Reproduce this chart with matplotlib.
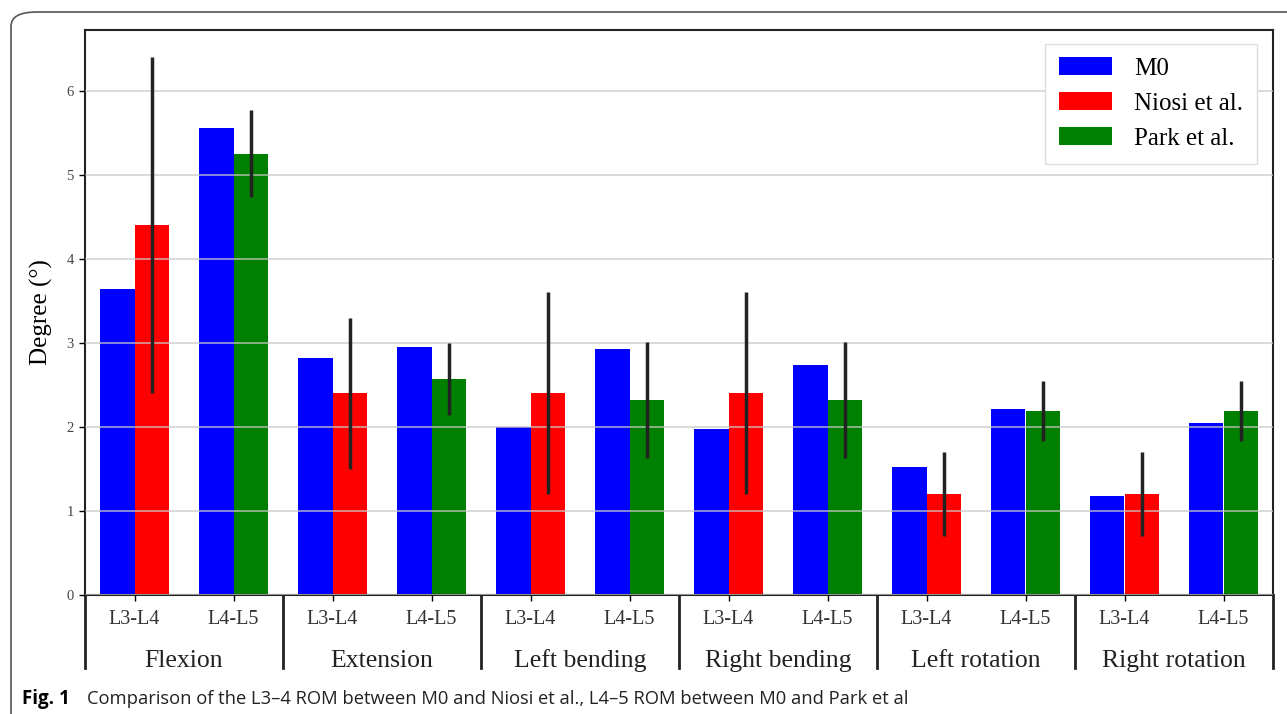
import matplotlib
matplotlib.use("Agg")
from matplotlib import pyplot as plt
from matplotlib.patches import FancyBboxPatch
import matplotlib.transforms as mtransforms
import numpy as np

# motions and spinal levels
motions = ['Flexion', 'Extension', 'Left bending', 'Right bending',
           'Left rotation', 'Right rotation']
levels = ['L3-L4', 'L4-L5']

# M0 model, one value per (motion, level)
m0 = [3.64, 5.56, 2.82, 2.95, 2.00, 2.93, 1.98, 2.74, 1.52, 2.21, 1.18, 2.05]

# Niosi et al. (L3-L4) and Park et al. (L4-L5)
niosi = [4.4, 2.4, 2.4, 2.4, 1.2, 1.2]
niosi_err = [2.0, 0.9, 1.2, 1.2, 0.5, 0.5]
park = [5.25, 2.57, 2.32, 2.32, 2.19, 2.19]
park_err = [0.52, 0.43, 0.69, 0.69, 0.36, 0.36]

serif = 'Liberation Serif'

fig = plt.figure(figsize=(12.87, 7.14), dpi=100)
W, H = 1287, 714

# rounded frame around the figure (cropped on the right and bottom)
frame = FancyBboxPatch((11 / W, -30 / H), 1.1, (714 - 12 + 30) / H,
                       boxstyle='round,pad=0,rounding_size=0.02',
                       transform=fig.transFigure, fill=False,
                       edgecolor='#555555', linewidth=1.2)
fig.patches.append(frame)

ax = fig.add_axes([85 / W, (714 - 595) / H, (1273 - 85) / W, (595 - 30) / H])

x = np.arange(len(m0))
w = 0.35
x34 = x[0::2]
x45 = x[1::2]

ax.bar(x - w / 2, m0, w, color='#0000ff', label='M0', zorder=2)
ax.bar(x34 + w / 2, niosi, w, color='#ff0000', label='Niosi et al.', zorder=2)
ax.bar(x45 + w / 2, park, w, color='#008000', label='Park et al.', zorder=2)
ax.errorbar(x34 + w / 2, niosi, yerr=niosi_err, fmt='none', ecolor='#222222',
            elinewidth=2.5, capsize=0, zorder=3)
ax.errorbar(x45 + w / 2, park, yerr=park_err, fmt='none', ecolor='#222222',
            elinewidth=2.5, capsize=0, zorder=3)

ax.set_xlim(-0.5, 11.5)
ax.set_ylim(0, 6.72)
ax.set_yticks(range(7))
ax.yaxis.grid(True, color='#c8c8c8', linewidth=1.2, alpha=0.8, zorder=4)
ax.set_axisbelow(False)

ax.set_xticks(x)
ax.set_xticklabels(levels * len(motions), fontfamily=serif, fontsize=14.5,
                   color='#333333')
ax.tick_params(axis='x', length=4, width=1, pad=7)
ax.tick_params(axis='y', length=4, width=1, pad=4, labelsize=10.5,
               labelcolor='#444444')
for lab in ax.get_yticklabels():
    lab.set_fontfamily(serif)

for s in ax.spines.values():
    s.set_linewidth(1.5)
    s.set_color('#222222')

ax.set_ylabel('Degree (°)', fontfamily=serif, fontsize=18, labelpad=10)

# group separators and motion labels below the axis
trans = mtransforms.blended_transform_factory(ax.transData, ax.transAxes)
for i in range(len(motions) + 1):
    ax.plot([2 * i - 0.5, 2 * i - 0.5], [0, -0.13], color='#222222',
            linewidth=2, transform=trans, clip_on=False)
for i, name in enumerate(motions):
    ax.text(2 * i + 0.5, -0.116, name, transform=trans, ha='center',
            va='center', fontfamily=serif, fontsize=18.5, color='#222222')

ax.legend(loc='upper right', prop={'family': serif, 'size': 18},
          handlelength=2.1, handleheight=0.7, borderpad=0.55,
          labelspacing=0.5, handletextpad=0.9, framealpha=1,
          edgecolor='#dddddd', fancybox=False, bbox_to_anchor=(0.997, 0.998))

# caption
fig.text(22 / W, 1 - 699 / H, 'Fig. 1', fontfamily='Open Sans',
         fontweight='bold', fontsize=13.5, va='center', ha='left')
fig.text(87 / W, 1 - 699 / H,
         'Comparison of the L3–4 ROM between M0 and Niosi et al., '
         'L4–5 ROM between M0 and Park et al',
         fontfamily='Open Sans', fontsize=13.2, va='center', ha='left',
         color='#222222')

fig.savefig('out.png', dpi=100)
